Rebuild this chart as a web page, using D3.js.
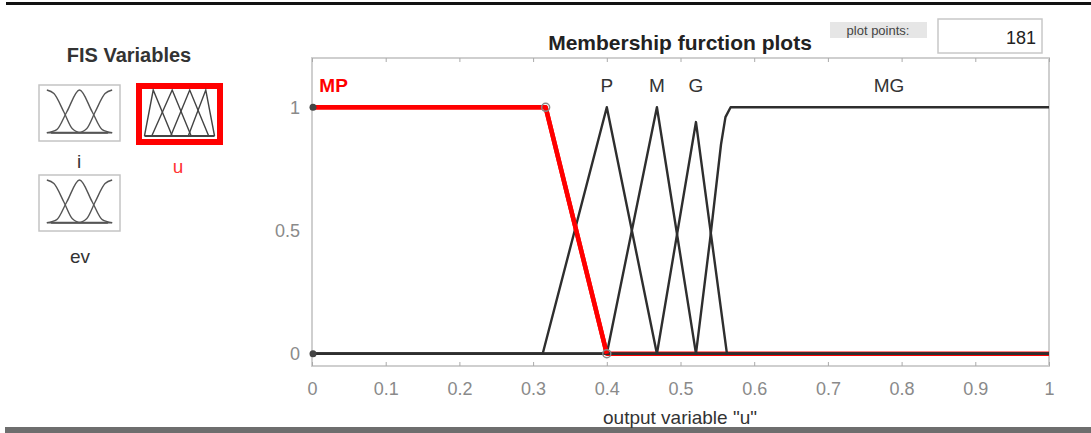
<!DOCTYPE html>
<html>
<head>
<meta charset="utf-8">
<script src="https://cdn.jsdelivr.net/npm/d3@7"></script>
<style>
  body { margin: 0; background: #fff; }
  svg { display: block; font-family: "Liberation Sans", Arial, sans-serif; }
</style>
</head>
<body>
<svg id="chart" width="1091" height="433"></svg>
<script>
// membership functions of output "u" (breakpoints)
const mfNames = ["MP", "P", "M", "G", "MG"];
const mfX = [
  [0, 0.317, 0.4, 1],
  [0, 0.313, 0.4, 0.468, 1],
  [0, 0.4, 0.468, 0.521, 1],
  [0, 0.468, 0.521, 0.563, 1],
  [0, 0.521, 0.54, 0.555, 0.561, 0.568, 1]
];
const mfY = [
  [1, 1, 0, 0],
  [0, 0, 1, 0, 0],
  [0, 0, 1, 0, 0],
  [0, 0, 0.94, 0, 0],
  [0, 0, 0.46, 0.85, 0.96, 1, 1]
];
const labelX = [0.01, 0.4, 0.468, 0.521, 0.783];
const selected = 0;

const xTicks = [0, 0.1, 0.2, 0.3, 0.4, 0.5, 0.6, 0.7, 0.8, 0.9, 1];
const yTicks = [0, 0.5, 1];

const fisVars = ["i", "u", "ev"];
const plotPoints = 181;

// little icon curves for the FIS variable boxes
const iconLeftX = [0.04, 0.14, 0.28, 0.4, 0.52, 0.96];
const iconLeftY = [1, 0.92, 0.5, 0.12, 0.03, 0.03];
const iconMidX = [0.04, 0.18, 0.32, 0.5, 0.68, 0.82, 0.96];
const iconMidY = [0.03, 0.1, 0.5, 1, 0.5, 0.1, 0.03];
const iconRightX = [0.04, 0.48, 0.6, 0.72, 0.86, 0.96];
const iconRightY = [0.03, 0.03, 0.12, 0.5, 0.92, 1];
const uIconX = [[0.02, 0.14, 0.4], [0.12, 0.4, 0.66], [0.38, 0.64, 0.9], [0.62, 0.86, 0.98]];
const uIconY = [[0, 1, 0], [0, 1, 0], [0, 1, 0], [0, 1, 0]];

const svg = d3.select("#chart");

// rules at top and bottom of the window
svg.append("rect").attr("x", 6).attr("y", 2).attr("width", 1085).attr("height", 3).attr("fill", "#111");
svg.append("rect").attr("x", 5).attr("y", 427).attr("width", 1086).attr("height", 6).attr("fill", "#6e6e6e");

///////////////////////////// left panel

const panel = svg.append("g");
panel.append("text")
  .attr("x", 129).attr("y", 62)
  .attr("text-anchor", "middle")
  .attr("font-size", 20).attr("font-weight", "bold").attr("fill", "#333")
  .text("FIS Variables");

const boxes = [
  { x: 39, y: 85, w: 81, h: 56, lx: 79, ly: 168 },
  { x: 136, y: 83, w: 87, h: 62, lx: 178, ly: 173 },
  { x: 39, y: 175, w: 81, h: 56, lx: 80, ly: 263 }
];

const iconLine = d3.line().curve(d3.curveMonotoneX);

boxes.forEach((b, i) => {
  const g = panel.append("g");
  const isSel = fisVars[i] === "u";
  if (isSel) {
    g.append("rect").attr("x", b.x + 3).attr("y", b.y + 3).attr("width", b.w - 6).attr("height", b.h - 6)
      .attr("fill", "#fff").attr("stroke", "#f00").attr("stroke-width", 6);
  } else {
    g.append("rect").attr("x", b.x).attr("y", b.y).attr("width", b.w).attr("height", b.h)
      .attr("fill", "#fff").attr("stroke", "#c4c4c4").attr("stroke-width", 1.5);
  }
  const pad = isSel ? 7 : 5;
  const ix = d3.scaleLinear().domain([0, 1]).range([b.x + pad, b.x + b.w - pad]);
  const iy = d3.scaleLinear().domain([0, 1]).range([b.y + b.h - pad - 2, b.y + pad]);
  iconLine.x(d => ix(d[0])).y(d => iy(d[1]));

  let curves;
  if (isSel) {
    curves = uIconX.map((xs, k) => xs.map((v, j) => [v, uIconY[k][j]]));
    g.selectAll("path.ic").data(curves).join("path")
      .attr("d", d3.line().x(d => ix(d[0])).y(d => iy(d[1])))
      .attr("fill", "none").attr("stroke", "#444").attr("stroke-width", 1.4);
    g.append("line").attr("x1", ix(0.02)).attr("x2", ix(0.98)).attr("y1", iy(0)).attr("y2", iy(0))
      .attr("stroke", "#444").attr("stroke-width", 1.8);
  } else {
    curves = [
      iconLeftX.map((v, j) => [v, iconLeftY[j]]),
      iconMidX.map((v, j) => [v, iconMidY[j]]),
      iconRightX.map((v, j) => [v, iconRightY[j]])
    ];
    g.selectAll("path.ic").data(curves).join("path")
      .attr("d", iconLine)
      .attr("fill", "none").attr("stroke", "#555").attr("stroke-width", 1.4);
    g.append("line").attr("x1", ix(0.1)).attr("x2", ix(0.9)).attr("y1", iy(0.03)).attr("y2", iy(0.03))
      .attr("stroke", "#555").attr("stroke-width", 2);
  }

  g.append("text")
    .attr("x", b.lx).attr("y", b.ly)
    .attr("text-anchor", "middle")
    .attr("font-size", 19)
    .attr("fill", isSel ? "#f33" : "#333")
    .text(fisVars[i]);
});

///////////////////////////// membership function plot

const x = d3.scaleLinear().domain([0, 1]).range([312, 1049]);
const y = d3.scaleLinear().domain([-0.05, 1.2]).range([366, 58]);

svg.append("text")
  .attr("x", 680).attr("y", 50)
  .attr("text-anchor", "middle")
  .attr("font-size", 21).attr("font-weight", "bold").attr("fill", "#222")
  .text("Membership furction plots");

// plot points control
svg.append("rect").attr("x", 830).attr("y", 22).attr("width", 97).attr("height", 16).attr("fill", "#e6e6e6");
svg.append("text").attr("x", 878).attr("y", 35).attr("text-anchor", "middle")
  .attr("font-size", 13).attr("fill", "#444").text("plot points:");
svg.append("rect").attr("x", 938).attr("y", 19).attr("width", 104).attr("height", 34)
  .attr("fill", "#fff").attr("stroke", "#c8c8c8").attr("stroke-width", 1.5);
svg.append("text").attr("x", 1036).attr("y", 44).attr("text-anchor", "end")
  .attr("font-size", 18).attr("fill", "#222").text(plotPoints);

// axes frame
svg.append("rect")
  .attr("x", x(0)).attr("y", y(1.2))
  .attr("width", x(1) - x(0)).attr("height", y(-0.05) - y(1.2))
  .attr("fill", "#fff").attr("stroke", "#cfcfcf").attr("stroke-width", 2);

const xAxis = svg.append("g")
  .attr("transform", `translate(0,${y(-0.05)})`)
  .call(d3.axisBottom(x).tickValues(xTicks).tickFormat(d3.format("")).tickSize(-4).tickPadding(16));
xAxis.select(".domain").remove();
xAxis.selectAll(".tick line").attr("stroke", "#aaa");
xAxis.selectAll(".tick text").attr("fill", "#8a8a8a").attr("font-size", 18).attr("font-family", "Liberation Sans, Arial, sans-serif");

const xTop = svg.append("g")
  .attr("transform", `translate(0,${y(1.2)})`)
  .call(d3.axisTop(x).tickValues(xTicks).tickFormat("").tickSize(-4));
xTop.select(".domain").remove();
xTop.selectAll(".tick line").attr("stroke", "#aaa");

const yAxis = svg.append("g")
  .attr("transform", `translate(${x(0)},0)`)
  .call(d3.axisLeft(y).tickValues(yTicks).tickFormat(d3.format("")).tickSize(0).tickPadding(12));
yAxis.select(".domain").remove();
yAxis.selectAll(".tick text").attr("fill", "#8a8a8a").attr("font-size", 18).attr("font-family", "Liberation Sans, Arial, sans-serif");

svg.append("text")
  .attr("x", 680).attr("y", 424)
  .attr("text-anchor", "middle")
  .attr("font-size", 19).attr("fill", "#333")
  .text("output variable \"u\"");

// curves
const line = d3.line().x(d => x(d[0])).y(d => y(d[1]));
const mfData = mfNames.map((name, i) => ({
  name, i,
  pts: mfX[i].map((v, j) => [v, mfY[i][j]])
}));

// selected one first (thick red), the others on top of it
svg.append("path")
  .datum(mfData[selected].pts)
  .attr("d", line)
  .attr("fill", "none").attr("stroke", "#f00").attr("stroke-width", 4.5)
  .attr("stroke-linejoin", "round");

svg.selectAll("path.mf")
  .data(mfData.filter(d => d.i !== selected))
  .join("path")
  .attr("class", "mf")
  .attr("d", d => line(d.pts))
  .attr("fill", "none").attr("stroke", "#2e2e2e").attr("stroke-width", 2.4)
  .attr("stroke-linejoin", "round");

// red slope again above the black legs it crosses
svg.append("path")
  .datum(mfData[selected].pts.slice(0, 3))
  .attr("d", line)
  .attr("fill", "none").attr("stroke", "#f00").attr("stroke-width", 4.5)
  .attr("stroke-linejoin", "round");

// vertex handles of the selected function
svg.selectAll("circle.handle")
  .data(mfData[selected].pts.slice(1, 3))
  .join("circle")
  .attr("class", "handle")
  .attr("cx", d => x(d[0])).attr("cy", d => y(d[1])).attr("r", 4)
  .attr("fill", "none").attr("stroke", "#888").attr("stroke-width", 1.5);
svg.selectAll("circle.end")
  .data([[0, 1], [0, 0]])
  .join("circle")
  .attr("class", "end")
  .attr("cx", d => x(d[0]) + 1).attr("cy", d => y(d[1])).attr("r", 3.5)
  .attr("fill", "#444");

// labels
svg.selectAll("text.mflabel")
  .data(mfData)
  .join("text")
  .attr("class", "mflabel")
  .attr("x", d => x(labelX[d.i]))
  .attr("y", y(1.06))
  .attr("text-anchor", d => d.i === selected ? "start" : "middle")
  .attr("font-size", 19)
  .attr("font-weight", d => d.i === selected ? "bold" : "normal")
  .attr("fill", d => d.i === selected ? "#f00" : "#333")
  .text(d => d.name);
</script>
</body>
</html>
